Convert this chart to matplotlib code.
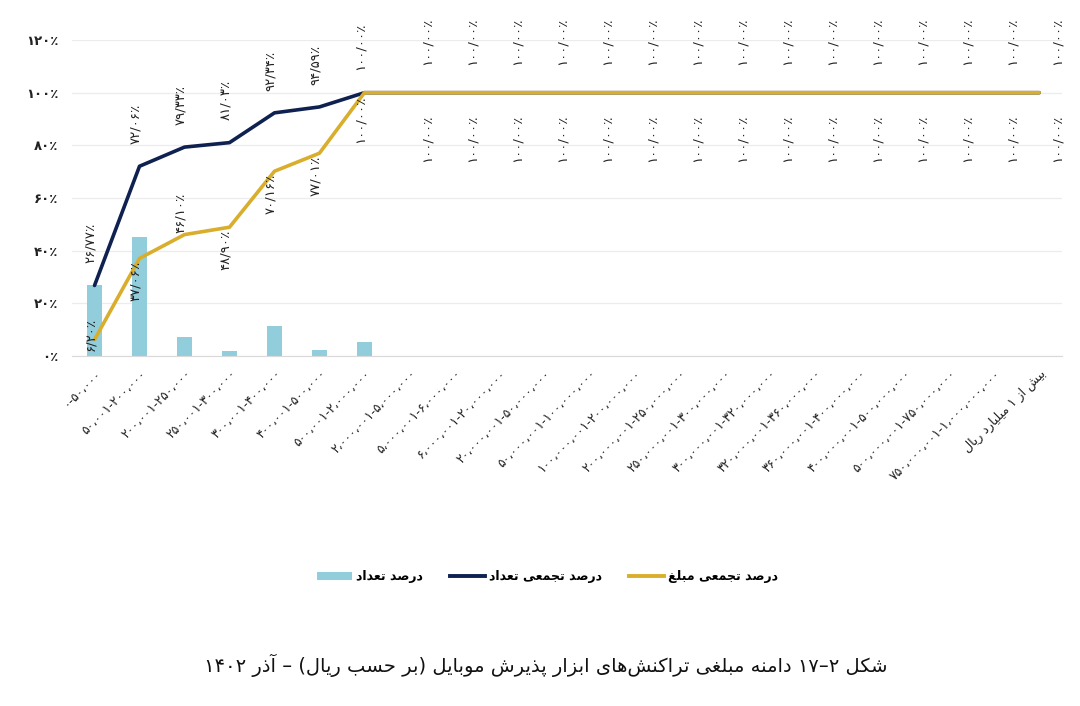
import matplotlib
matplotlib.use("Agg")
import matplotlib.pyplot as plt
from matplotlib.patches import Patch
from matplotlib.lines import Line2D

# ---------------- data ----------------
categories = [
    "۰-۵۰،۰۰۰",
    "۵۰،۰۰۱-۲۰۰،۰۰۰",
    "۲۰۰،۰۰۱-۲۵۰،۰۰۰",
    "۲۵۰،۰۰۱-۳۰۰،۰۰۰",
    "۳۰۰،۰۰۱-۴۰۰،۰۰۰",
    "۴۰۰،۰۰۱-۵۰۰،۰۰۰",
    "۵۰۰،۰۰۱-۲،۰۰۰،۰۰۰",
    "۲،۰۰۰،۰۰۱-۵،۰۰۰،۰۰۰",
    "۵،۰۰۰،۰۰۱-۶،۰۰۰،۰۰۰",
    "۶،۰۰۰،۰۰۱-۲۰،۰۰۰،۰۰۰",
    "۲۰،۰۰۰،۰۰۱-۵۰،۰۰۰،۰۰۰",
    "۵۰،۰۰۰،۰۰۱-۱۰۰،۰۰۰،۰۰۰",
    "۱۰۰،۰۰۰،۰۰۱-۲۰۰،۰۰۰،۰۰۰",
    "۲۰۰،۰۰۰،۰۰۱-۲۵۰،۰۰۰،۰۰۰",
    "۲۵۰،۰۰۰،۰۰۱-۳۰۰،۰۰۰،۰۰۰",
    "۳۰۰،۰۰۰،۰۰۱-۳۲۰،۰۰۰،۰۰۰",
    "۳۲۰،۰۰۰،۰۰۱-۳۶۰،۰۰۰،۰۰۰",
    "۳۶۰،۰۰۰،۰۰۱-۴۰۰،۰۰۰،۰۰۰",
    "۴۰۰،۰۰۰،۰۰۱-۵۰۰،۰۰۰،۰۰۰",
    "۵۰۰،۰۰۰،۰۰۱-۷۵۰،۰۰۰،۰۰۰",
    "۷۵۰،۰۰۰،۰۰۱-۱،۰۰۰،۰۰۰،۰۰۰",
    "بیش از ۱ میلیارد ریال",
]
count_pct = [26.77, 45.29, 7.27, 1.70, 11.31, 2.25, 5.41, 0, 0, 0, 0,
             0, 0, 0, 0, 0, 0, 0, 0, 0, 0, 0]
cum_count = [26.77, 72.06, 79.33, 81.03, 92.34, 94.59, 100, 100, 100, 100, 100,
             100, 100, 100, 100, 100, 100, 100, 100, 100, 100, 100]
cum_amount = [6.20, 37.06, 46.10, 48.90, 70.16, 77.01, 100, 100, 100, 100, 100,
              100, 100, 100, 100, 100, 100, 100, 100, 100, 100, 100]
yticks = [0, 20, 40, 60, 80, 100, 120]

legend_labels = ["درصد تعداد", "درصد تجمعی تعداد", "درصد تجمعی مبلغ"]
title_text = "شکل ۲–۱۷ دامنه مبلغی تراکنش\u200cهای ابزار پذیرش موبایل (بر حسب ریال) – آذر ۱۴۰۲"

# ---------------- minimal Arabic shaping ----------------
FORMS = {
    'ا': ('\uFE8D', '\uFE8E'), 'آ': ('\uFE81', '\uFE82'),
    'د': ('\uFEA9', '\uFEAA'), 'ذ': ('\uFEAB', '\uFEAC'),
    'ر': ('\uFEAD', '\uFEAE'), 'ز': ('\uFEAF', '\uFEB0'),
    'و': ('\uFEED', '\uFEEE'),
    'ب': ('\uFE8F', '\uFE90', '\uFE91', '\uFE92'),
    'پ': ('\uFB56', '\uFB57', '\uFB58', '\uFB59'),
    'ت': ('\uFE95', '\uFE96', '\uFE97', '\uFE98'),
    'ج': ('\uFE9D', '\uFE9E', '\uFE9F', '\uFEA0'),
    'ح': ('\uFEA1', '\uFEA2', '\uFEA3', '\uFEA4'),
    'س': ('\uFEB1', '\uFEB2', '\uFEB3', '\uFEB4'),
    'ش': ('\uFEB5', '\uFEB6', '\uFEB7', '\uFEB8'),
    'ص': ('\uFEB9', '\uFEBA', '\uFEBB', '\uFEBC'),
    'ع': ('\uFEC9', '\uFECA', '\uFECB', '\uFECC'),
    'غ': ('\uFECD', '\uFECE', '\uFECF', '\uFED0'),
    'ک': ('\uFB8E', '\uFB8F', '\uFB90', '\uFB91'),
    'ل': ('\uFEDD', '\uFEDE', '\uFEDF', '\uFEE0'),
    'م': ('\uFEE1', '\uFEE2', '\uFEE3', '\uFEE4'),
    'ن': ('\uFEE5', '\uFEE6', '\uFEE7', '\uFEE8'),
    'ه': ('\uFEE9', '\uFEEA', '\uFEEB', '\uFEEC'),
    'ی': ('\uFBFC', '\uFBFD', '\uFBFE', '\uFBFF'),
}
MIRROR = {'(': ')', ')': '('}


def shape_segment(w):
    out = []
    for i, ch in enumerate(w):
        f = FORMS.get(ch)
        if f is None:
            out.append(ch)
            continue
        prev = w[i - 1] if i > 0 else None
        nxt = w[i + 1] if i + 1 < len(w) else None
        jp = prev is not None and prev in FORMS and len(FORMS[prev]) == 4
        jn = len(f) == 4 and nxt is not None and nxt in FORMS
        if jp and jn:
            out.append(f[3])
        elif jp:
            out.append(f[1])
        elif jn:
            out.append(f[2])
        else:
            out.append(f[0])
    return ''.join(out)


def rtl(text):
    toks = []
    for t in text.split(' '):
        if any(c in FORMS for c in t):
            s = ''.join(shape_segment(seg) for seg in t.split('\u200c'))
            s = ''.join(MIRROR.get(c, c) for c in reversed(s))
        else:
            s = '–'.join(reversed(t.split('–')))
        toks.append(s)
    return ' '.join(reversed(toks))


FA = str.maketrans('0123456789', '۰۱۲۳۴۵۶۷۸۹')


def pct_label(v):
    return (f"{v:.2f}".replace('.', '/')).translate(FA) + '٪'


# ---------------- figure ----------------
plt.rcParams['font.family'] = ['DejaVu Sans']
fig = plt.figure(figsize=(10.8, 7.06), dpi=100)
ax = fig.add_axes([0.0667, 0.4958, 0.9163, 0.4475])

x = list(range(len(categories)))
bar_c = '#92CDDC'
navy = '#0F2150'
gold = '#D9AE2C'

ax.bar(x, count_pct, width=0.33, color=bar_c, zorder=2)
ax.plot(x, cum_count, color=navy, lw=2.6, zorder=3, solid_capstyle='round')
ax.plot(x, cum_amount, color=gold, lw=2.6, zorder=4, solid_capstyle='round')

ax.set_xlim(-0.5, len(categories) - 0.5)
ax.set_ylim(0, 120)
ax.set_yticks(yticks)
ax.set_yticklabels([f"{v}".translate(FA) + '٪' for v in yticks],
                   fontsize=9.5, fontweight='bold', color='#222222')
ax.set_xticks(x)
ax.set_xticklabels([rtl(c) if any(ch in FORMS for ch in c) else c for c in categories],
                   rotation=45, ha='right', va='top', rotation_mode='anchor',
                   fontsize=9, color='#222222')
ax.tick_params(axis='both', length=0)
ax.tick_params(axis='y', pad=10)
ax.tick_params(axis='x', pad=8)
for s in ['top', 'right', 'left']:
    ax.spines[s].set_visible(False)
ax.spines['bottom'].set_color('#d9d9d9')
ax.grid(axis='y', color='#ececec', lw=0.9, zorder=0)
ax.set_axisbelow(True)

# data labels
gold_pos = ['center', 'below', 'above', 'below', 'below', 'below'] + ['below'] * 16
for i in x:
    flat = i > 0 and cum_count[i] == cum_count[i - 1]
    dx = 13 if flat else -3
    ax.annotate(pct_label(cum_count[i]), (i, cum_count[i]),
                xytext=(dx, 20 if flat else 16), textcoords='offset points',
                rotation=90, ha='center', va='bottom', fontsize=9.5, color='#222222',
                zorder=5)
    flat_a = i > 0 and cum_amount[i] == cum_amount[i - 1]
    dxa = 13 if flat_a else -3
    pos = gold_pos[i]
    if pos == 'center':
        xy_off, va = (-3, 4), 'center'
    elif pos == 'above':
        xy_off, va = (dxa, 1), 'bottom'
    else:
        xy_off, va = (dxa, -16 if flat_a else -2), 'top'
    ax.annotate(pct_label(cum_amount[i]), (i, cum_amount[i]),
                xytext=xy_off, textcoords='offset points',
                rotation=90, ha='center', va=va, fontsize=9.5, color='#222222',
                zorder=5)

handles = [Patch(facecolor=bar_c, edgecolor='none'),
           Line2D([0], [0], color=navy, lw=2.8),
           Line2D([0], [0], color=gold, lw=2.8)]
fig.legend(handles, [rtl(t) for t in legend_labels], loc='center',
           bbox_to_anchor=(0.507, 0.183), ncol=3, frameon=False,
           prop={'size': 9, 'weight': 'bold'}, handlelength=2.8,
           handletextpad=0.3, columnspacing=2.2)

fig.text(0.505, 0.058, rtl(title_text), ha='center', va='center', fontsize=14,
         color='#111111')

fig.savefig('out.png', dpi=100, facecolor='white')
